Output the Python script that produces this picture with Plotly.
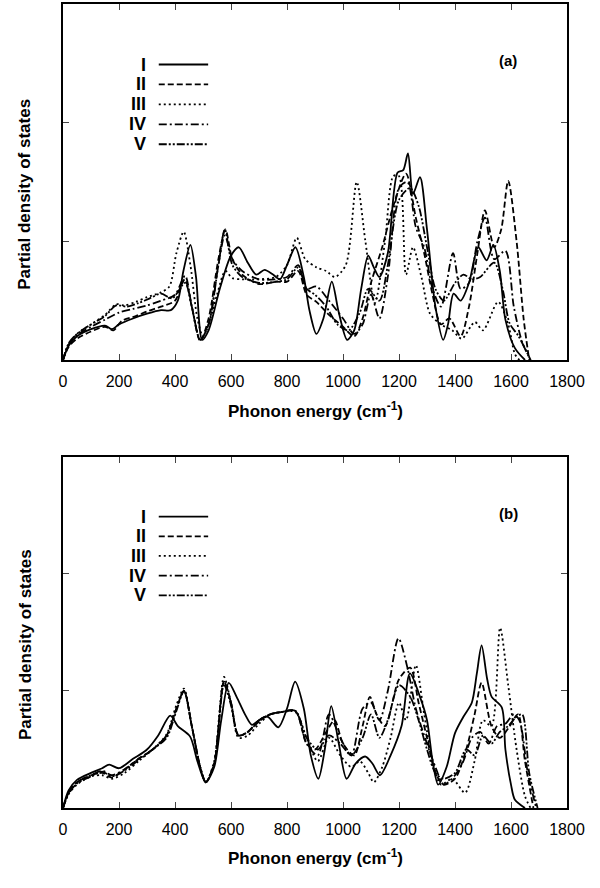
import plotly.graph_objects as go

# ---- panel (a) ----
A1_X = [0,20,50,100,150,175,200,250,300,350,385,410,430,455,475,497,520,560,600,628,660,690,720,750,775,800,830,860,880,905,930,960,985,1015,1040,1065,1090,1110,1130,1160,1195,1215,1232,1250,1275,1300,1330,1358,1375,1395,1420,1450,1483,1513,1537,1560,1580,1614,1650]
A1_Y = [0,0.12,0.2,0.26,0.29,0.26,0.3,0.35,0.39,0.42,0.42,0.5,0.75,0.97,0.7,0.17,0.25,0.6,0.88,0.95,0.82,0.72,0.76,0.72,0.68,0.8,0.95,0.7,0.42,0.22,0.35,0.66,0.4,0.17,0.25,0.6,0.88,0.78,0.7,0.9,1.58,1.6,1.74,1.4,1.54,1.1,0.45,0.17,0.3,0.56,0.5,0.65,0.95,0.84,0.97,0.75,0.34,0.1,0.0]

A2_X = [0,20,50,100,150,180,210,260,300,350,400,435,460,490,520,555,580,605,640,700,760,800,840,870,905,950,1000,1040,1070,1100,1140,1180,1225,1260,1290,1320,1350,1380,1420,1450,1480,1507,1540,1565,1590,1620,1645,1665]
A2_Y = [0,0.11,0.18,0.24,0.28,0.25,0.33,0.37,0.41,0.45,0.5,0.68,0.45,0.16,0.35,0.85,1.1,0.85,0.72,0.64,0.66,0.66,0.75,0.55,0.49,0.38,0.28,0.2,0.35,0.65,0.95,1.3,1.57,1.2,0.9,0.55,0.3,0.35,0.2,0.45,0.9,1.26,0.95,1.1,1.51,1.0,0.35,0.0]

A3_X = [0,20,50,100,150,190,220,260,300,350,380,405,431,455,480,500,520,550,580,605,640,700,760,800,835,865,906,940,971,1010,1049,1080,1114,1150,1180,1200,1225,1250,1280,1311,1350,1390,1424,1471,1500,1554,1590,1614,1630]
A3_Y = [0,0.13,0.22,0.3,0.38,0.47,0.46,0.49,0.53,0.57,0.62,0.9,1.08,0.8,0.35,0.2,0.3,0.55,0.75,0.69,0.68,0.68,0.7,0.8,1.03,0.85,0.78,0.75,0.7,0.8,1.5,1.0,0.48,1.0,1.55,1.55,0.72,0.95,0.7,0.39,0.3,0.25,0.18,0.32,0.25,0.49,0.3,0.05,0.0]

A4_X = [0,20,50,100,150,200,250,300,350,400,436,460,490,520,555,578,605,640,700,760,800,840,870,905,950,1000,1040,1070,1100,1130,1160,1200,1230,1260,1290,1320,1350,1393,1420,1450,1480,1507,1540,1580,1610,1640,1670]
A4_Y = [0,0.13,0.21,0.28,0.34,0.4,0.43,0.46,0.5,0.55,0.71,0.45,0.17,0.3,0.8,1.05,0.85,0.75,0.68,0.68,0.7,0.8,0.6,0.62,0.5,0.35,0.22,0.3,0.55,0.35,0.7,1.45,1.5,1.12,0.95,0.6,0.45,0.9,0.6,0.65,1.0,1.2,0.85,0.92,0.45,0.15,0.0]

A5_X = [0,20,50,100,150,190,230,270,310,350,390,436,460,490,520,555,578,605,640,700,760,800,840,870,900,940,980,1020,1060,1090,1130,1160,1200,1240,1270,1300,1330,1360,1400,1430,1460,1490,1540,1570,1595,1627,1670]
A5_Y = [0,0.14,0.22,0.3,0.37,0.46,0.45,0.48,0.52,0.56,0.52,0.65,0.45,0.17,0.3,0.8,1.1,0.8,0.7,0.65,0.66,0.68,0.78,0.6,0.55,0.45,0.3,0.25,0.4,0.6,0.5,0.8,1.35,1.45,1.3,0.95,0.6,0.5,0.65,0.72,0.68,0.7,0.82,0.6,0.31,0.2,0.0]

# ---- panel (b) ----
B1_X = [0,20,50,100,140,165,200,250,300,340,383,410,454,480,510,540,565,592,620,650,675,700,730,769,800,829,860,885,912,935,958,985,1013,1045,1079,1105,1132,1170,1209,1239,1275,1300,1320,1340,1370,1400,1430,1460,1478,1495,1515,1531,1567,1580,1600,1614,1650]
B1_Y = [0,0.15,0.24,0.3,0.34,0.37,0.34,0.42,0.5,0.62,0.79,0.7,0.61,0.4,0.22,0.35,0.75,1.07,0.95,0.8,0.71,0.75,0.78,0.69,0.85,1.08,0.85,0.45,0.25,0.5,0.87,0.55,0.25,0.38,0.44,0.38,0.28,0.45,0.7,1.15,0.95,0.75,0.4,0.2,0.35,0.64,0.78,0.9,1.15,1.39,1.1,0.95,0.86,0.5,0.2,0.07,0.0]

B2_X = [0,20,50,100,140,175,220,270,320,370,405,432,460,490,510,540,575,600,627,660,700,740,780,830,870,900,940,970,1000,1040,1070,1096,1120,1150,1200,1240,1270,1300,1330,1360,1400,1440,1470,1495,1530,1560,1590,1625,1650,1680]
B2_Y = [0,0.13,0.22,0.28,0.3,0.26,0.33,0.42,0.5,0.62,0.85,1.0,0.7,0.35,0.22,0.38,1.08,0.9,0.62,0.65,0.75,0.8,0.82,0.83,0.55,0.5,0.65,0.75,0.55,0.45,0.7,0.95,0.8,0.7,1.1,1.2,0.9,0.6,0.3,0.2,0.25,0.5,0.8,1.07,0.7,0.6,0.68,0.8,0.4,0.0]

B3_X = [0,20,50,100,140,175,220,270,320,370,405,432,460,490,510,540,575,600,627,660,700,740,780,830,870,910,950,990,1030,1060,1090,1110,1140,1170,1200,1225,1260,1290,1320,1350,1390,1436,1470,1500,1530,1561,1590,1620,1650,1670]
B3_Y = [0,0.12,0.2,0.27,0.28,0.25,0.3,0.4,0.5,0.63,0.88,1.02,0.7,0.35,0.22,0.4,1.12,0.9,0.6,0.62,0.72,0.8,0.82,0.82,0.6,0.4,0.6,0.45,0.35,0.4,0.3,0.22,0.35,0.6,0.9,0.75,1.22,0.8,0.4,0.2,0.25,0.13,0.4,0.75,0.7,1.54,1.05,0.5,0.1,0.0]

B4_X = [0,20,50,100,140,175,220,270,320,370,405,432,460,490,510,540,575,600,627,660,700,740,780,830,870,910,950,990,1030,1070,1100,1130,1160,1198,1230,1260,1300,1330,1360,1400,1430,1460,1490,1520,1550,1580,1610,1630,1660,1690]
B4_Y = [0,0.13,0.22,0.28,0.32,0.28,0.33,0.42,0.5,0.62,0.85,1.0,0.7,0.35,0.22,0.38,1.08,0.9,0.62,0.65,0.75,0.8,0.82,0.83,0.55,0.45,0.8,0.6,0.45,0.85,0.9,0.75,1.0,1.45,1.2,0.85,0.55,0.35,0.2,0.28,0.4,0.6,0.65,0.55,0.7,0.72,0.8,0.75,0.3,0.0]

B5_X = [0,20,50,100,140,175,220,270,320,370,405,432,460,490,510,540,575,600,627,660,700,740,780,830,870,910,950,990,1030,1070,1100,1130,1160,1200,1240,1270,1300,1330,1360,1400,1440,1470,1500,1530,1560,1590,1620,1640,1665,1695]
B5_Y = [0,0.12,0.21,0.27,0.31,0.27,0.32,0.41,0.5,0.6,0.83,1.0,0.7,0.35,0.22,0.38,1.05,0.88,0.62,0.65,0.74,0.8,0.82,0.83,0.6,0.5,0.62,0.55,0.45,0.6,0.8,0.6,0.75,1.05,0.95,0.75,0.5,0.3,0.25,0.3,0.5,0.45,0.62,0.55,0.65,0.7,0.78,0.8,0.3,0.0]

NAMES = ["I", "II", "III", "IV", "V"]
DASHES = ["solid", "6px,3px", "2px,3px", "8px,3px,2px,3px", "8px,2px,2px,2px,2px,2px"]
X_TICKS = [0, 200, 400, 600, 800, 1000, 1200, 1400, 1600, 1800]

FONT = "Liberation Sans, Arial, sans-serif"

panels = [
    ("x", "y", "(a)", [(A1_X, A1_Y), (A2_X, A2_Y), (A3_X, A3_Y), (A4_X, A4_Y), (A5_X, A5_Y)]),
    ("x2", "y2", "(b)", [(B1_X, B1_Y), (B2_X, B2_Y), (B3_X, B3_Y), (B4_X, B4_Y), (B5_X, B5_Y)]),
]

fig = go.Figure()
shapes = []
annotations = []

for xa, ya, tag, series in panels:
    for i, (xs, ys) in enumerate(series):
        assert len(xs) == len(ys), (tag, i, len(xs), len(ys))
        fig.add_trace(go.Scatter(
            x=xs, y=ys, xaxis=xa, yaxis=ya, mode="lines", name=NAMES[i],
            showlegend=False,
            line=dict(color="black", width=1.8, dash=DASHES[i], shape="spline", smoothing=0.8),
        ))
    # hand-made legend: label on the left, line sample on the right
    for i in range(5):
        yy = 0.83 - 0.056 * i
        shapes.append(dict(type="line", xref=xa + " domain", yref=ya + " domain",
                           x0=0.19, x1=0.288, y0=yy, y1=yy,
                           line=dict(color="black", width=1.8, dash=DASHES[i])))
        annotations.append(dict(text="<b>" + NAMES[i] + "</b>", xref=xa + " domain", yref=ya + " domain",
                                x=0.168, y=yy, xanchor="right", yanchor="middle", showarrow=False,
                                font=dict(size=18, family=FONT, color="black")))
    annotations.append(dict(text="<b>" + tag + "</b>", xref=xa + " domain", yref=ya + " domain",
                            x=0.883, y=0.84, xanchor="center", yanchor="middle", showarrow=False,
                            font=dict(size=15, family=FONT, color="black")))
    # axis titles placed by hand so the margins stay fixed
    annotations.append(dict(text="<b>Phonon energy (cm<sup>-1</sup>)</b>", xref=xa + " domain", yref=ya + " domain",
                            x=0.5, y=-0.14, xanchor="center", yanchor="middle", showarrow=False,
                            font=dict(size=17, family=FONT, color="black")))
    annotations.append(dict(text="<b>Partial density of states</b>", xref="paper", yref=ya + " domain",
                            x=-0.0754, y=0.467, xanchor="center", yanchor="middle", showarrow=False,
                            textangle=-90, font=dict(size=17, family=FONT, color="black")))

xaxis_style = dict(
    range=[0, 1800], tickvals=X_TICKS, ticks="inside", ticklen=6, tickwidth=1.3,
    showline=True, linecolor="black", linewidth=1.5, mirror="ticks",
    showgrid=False, zeroline=False, automargin=False, ticklabelstandoff=6,
    tickprefix="<b>", ticksuffix="</b>",
    tickfont=dict(size=16, family=FONT, color="black"),
)
yaxis_style = dict(
    range=[0, 3], tickvals=[0, 1, 2, 3], ticks="inside", ticklen=6, tickwidth=1.3,
    showticklabels=False, showline=True, linecolor="black", linewidth=1.5, mirror="ticks",
    showgrid=False, zeroline=False, automargin=False,
)

fig.update_layout(
    width=600, height=888,
    margin=dict(l=63, r=33, t=4, b=80),
    paper_bgcolor="white", plot_bgcolor="white",
    xaxis=dict(domain=[0, 1], anchor="y", **xaxis_style),
    yaxis=dict(domain=[0.5572, 1.0], anchor="x", **yaxis_style),
    xaxis2=dict(domain=[0, 1], anchor="y2", **xaxis_style),
    yaxis2=dict(domain=[0.0, 0.4366], anchor="x2", **yaxis_style),
    shapes=shapes,
    annotations=annotations,
)

# the browser's default body margin would shift the figure by 8px
fig.write_html("out.html", config={"displayModeBar": False},
               post_script="document.body.style.margin='0';")
